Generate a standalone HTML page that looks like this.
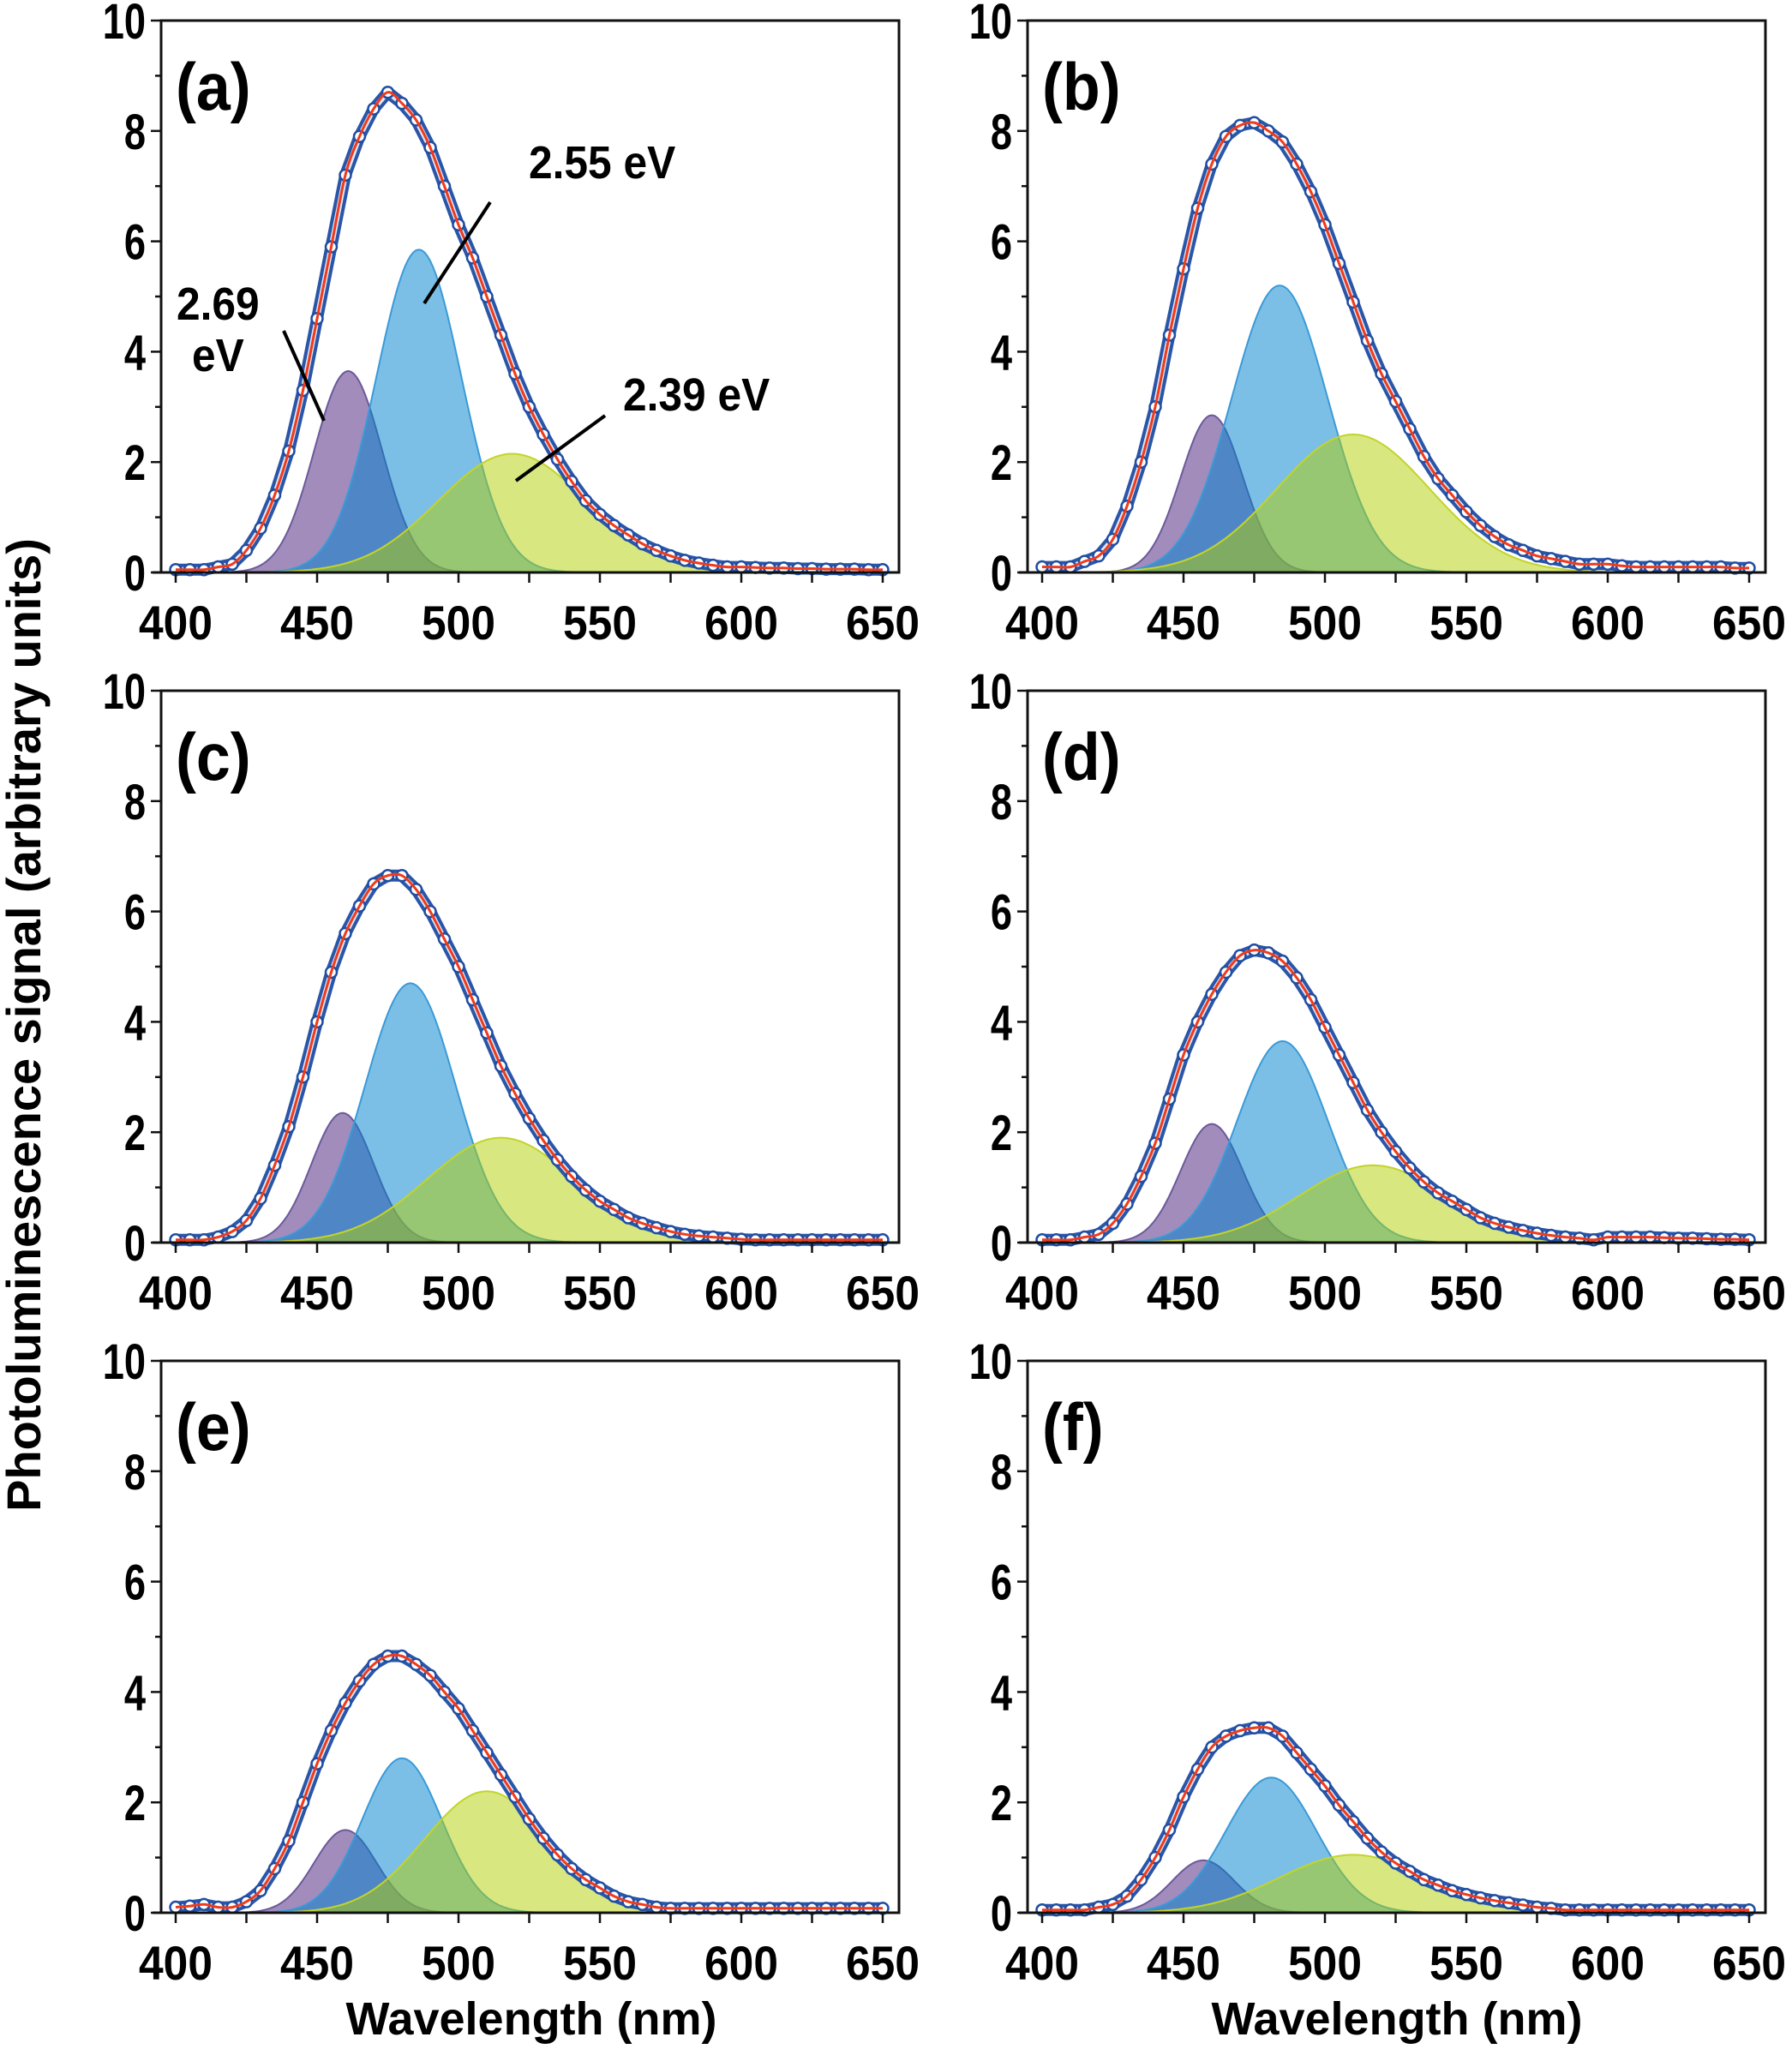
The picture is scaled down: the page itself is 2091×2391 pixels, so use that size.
<!DOCTYPE html>
<html><head><meta charset="utf-8"><style>
html,body{margin:0;padding:0;background:#fff;}
svg{display:block;font-family:"Liberation Sans",Arial,sans-serif;font-weight:bold;}
</style></head><body>
<svg id="fig" width="2091" height="2391" viewBox="0 0 2091 2391">
<text x="0" y="0" transform="translate(47,1196) rotate(-90)" text-anchor="middle" font-size="56">Photoluminescence signal (arbitrary units)</text>
<text x="620" y="2374" text-anchor="middle" font-size="54">Wavelength (nm)</text>
<text x="1630" y="2374" text-anchor="middle" font-size="54">Wavelength (nm)</text>
</svg>
<script>
const wavelengths=[400,405,410,415,420,425,430,435,440,445,450,455,460,465,470,475,480,485,490,495,500,505,510,515,520,525,530,535,540,545,550,555,560,565,570,575,580,585,590,595,600,605,610,615,620,625,630,635,640,645,650];
const panelLabels=["(a)","(b)","(c)","(d)","(e)","(f)"];
const xTicks=[400,450,500,550,600,650];
const yTicks=[0,2,4,6,8,10];
const dataA=[0.05,0.05,0.05,0.1,0.15,0.4,0.8,1.4,2.2,3.3,4.6,5.9,7.2,7.9,8.4,8.7,8.5,8.2,7.7,7.0,6.3,5.7,5.0,4.3,3.6,3.0,2.5,2.05,1.65,1.3,1.05,0.85,0.68,0.52,0.4,0.3,0.22,0.17,0.13,0.1,0.1,0.09,0.08,0.08,0.07,0.07,0.06,0.06,0.06,0.05,0.05];
const dataB=[0.1,0.1,0.1,0.2,0.3,0.6,1.2,2.0,3.0,4.3,5.5,6.6,7.4,7.9,8.1,8.15,8.0,7.8,7.4,6.9,6.3,5.6,4.9,4.2,3.6,3.1,2.6,2.1,1.7,1.4,1.1,0.85,0.65,0.5,0.4,0.3,0.25,0.2,0.15,0.15,0.15,0.12,0.1,0.1,0.1,0.1,0.1,0.1,0.1,0.08,0.08];
const dataC=[0.05,0.05,0.05,0.1,0.2,0.4,0.8,1.4,2.1,3.0,4.0,4.9,5.6,6.1,6.5,6.65,6.65,6.4,6.0,5.5,5.0,4.4,3.8,3.2,2.7,2.25,1.85,1.5,1.2,0.95,0.75,0.6,0.45,0.35,0.27,0.2,0.15,0.12,0.1,0.08,0.06,0.05,0.05,0.05,0.05,0.05,0.05,0.05,0.05,0.05,0.05];
const dataD=[0.05,0.05,0.05,0.1,0.15,0.35,0.7,1.2,1.8,2.6,3.4,4.0,4.5,4.9,5.2,5.3,5.25,5.1,4.8,4.4,3.9,3.4,2.9,2.4,2.0,1.65,1.35,1.1,0.9,0.75,0.6,0.45,0.35,0.28,0.22,0.17,0.13,0.1,0.08,0.05,0.1,0.1,0.1,0.1,0.09,0.08,0.08,0.07,0.06,0.06,0.05];
const dataE=[0.1,0.12,0.15,0.1,0.1,0.2,0.4,0.8,1.3,2.0,2.7,3.3,3.8,4.2,4.5,4.65,4.65,4.5,4.3,4.0,3.7,3.3,2.9,2.5,2.1,1.7,1.35,1.05,0.8,0.6,0.45,0.3,0.2,0.15,0.1,0.08,0.08,0.08,0.08,0.08,0.08,0.08,0.08,0.08,0.08,0.08,0.08,0.08,0.08,0.08,0.08];
const dataF=[0.05,0.05,0.05,0.05,0.1,0.15,0.3,0.6,1.0,1.5,2.1,2.6,3.0,3.2,3.3,3.35,3.35,3.2,2.9,2.6,2.3,1.95,1.65,1.35,1.1,0.9,0.75,0.6,0.5,0.4,0.33,0.27,0.22,0.18,0.14,0.1,0.08,0.05,0.05,0.05,0.05,0.05,0.05,0.05,0.05,0.05,0.05,0.05,0.05,0.05,0.05];
const panelData=[dataA,dataB,dataC,dataD,dataE,dataF];
// component gaussians: center (nm), amplitude, sigma (nm)
const purpleCenter=[461,460,459,460,460,457];
const purpleAmp=[3.65,2.85,2.35,2.15,1.5,0.95];
const purpleSigma=[12,11,11,11,11,11];
const blueCenter=[486,484,483,485,480,481];
const blueAmp=[5.85,5.2,4.7,3.65,2.8,2.45];
const blueSigma=[15,17,16,16,14,16];
const yellowCenter=[519,510,515,517,510,510];
const yellowAmp=[2.15,2.5,1.9,1.4,2.2,1.05];
const yellowSigma=[26,27,26,26,22,26];

const NS="http://www.w3.org/2000/svg";
const svg=document.getElementById('fig');
const colLeft=[188,1199], rowTop=[24,806,1588], rowZero=[668,1450,2232];
function mk(tag,attrs,parent){const e=document.createElementNS(NS,tag);for(const k in attrs)e.setAttribute(k,attrs[k]);(parent||svg).appendChild(e);return e;}

for(let p=0;p<6;p++){
  const col=p%2,row=Math.floor(p/2);
  const L=colLeft[col],R=L+861,T=rowTop[row],B=rowZero[row];
  const x400=L+17,pxnm=3.3;
  const X=w=>x400+(w-400)*pxnm;
  const Y=v=>B-(v/10)*(B-T);
  const g=mk('g',{});
  
  
  const clipId='clip'+p;
  const cp=mk('clipPath',{id:clipId},g);mk('rect',{x:L,y:T,width:R-L,height:B-T},cp);
  const comps=[[purpleCenter[p],purpleAmp[p],purpleSigma[p],'rgb(162,140,188)',1,'#6a5a9a','component-2-69ev'],
               [blueCenter[p],blueAmp[p],blueSigma[p],'rgb(1,131,206)',0.516,'#3a9ad8','component-2-55ev'],
               [yellowCenter[p],yellowAmp[p],yellowSigma[p],'rgb(177,207,0)',0.5,'#c2d42a','component-2-39ev']];
  const cg=mk('g',{'clip-path':'url(#'+clipId+')'},g);
  for(const c of comps){
    let d='M'+X(400)+','+B;
    for(let w=400;w<=650;w+=1){const v=c[1]*Math.exp(-Math.pow(w-c[0],2)/(2*c[2]*c[2]));d+=' L'+X(w).toFixed(1)+','+Y(v).toFixed(1);}
    d+=' L'+X(650)+','+B+' Z';
    const path=mk('path',{d:d,fill:c[3],'fill-opacity':c[4],stroke:c[5],'stroke-width':2},cg);
    
    
  }
  const data=panelData[p];
  const pts=wavelengths.map((w,i)=>[X(w),Y(data[i])]);
  const poly=pts.map(q=>q[0].toFixed(1)+','+q[1].toFixed(1)).join(' ');
  const band=mk('polyline',{points:poly,fill:'none',stroke:'#2a56a8','stroke-width':14,'stroke-linejoin':'round'},g);
  
  
  mk('polyline',{points:poly,fill:'none',stroke:'#dfe7f5','stroke-width':6,'stroke-linejoin':'round'},g);
  for(const q of pts){
    const c=mk('circle',{cx:q[0],cy:q[1],r:6.5,fill:'#fff',stroke:'#1f4ea3','stroke-width':2.5},g);
    
    
  }
  let fd='M'+pts[0][0]+','+pts[0][1];
  for(let i=0;i<pts.length-1;i++){
    const p0=pts[Math.max(0,i-1)],p1=pts[i],p2=pts[i+1],p3=pts[Math.min(pts.length-1,i+2)];
    fd+=' C'+(p1[0]+(p2[0]-p0[0])/6).toFixed(1)+','+(p1[1]+(p2[1]-p0[1])/6).toFixed(1)+' '+(p2[0]-(p3[0]-p1[0])/6).toFixed(1)+','+(p2[1]-(p3[1]-p1[1])/6).toFixed(1)+' '+p2[0].toFixed(1)+','+p2[1].toFixed(1);
  }
  const fit=mk('path',{d:fd,fill:'none',stroke:'#f03a1c','stroke-width':3},g);
  
  
  const fr=mk('rect',{x:L,y:T,width:R-L,height:B-T,fill:'none',stroke:'#111','stroke-width':3},g);
  
  
  mk('line',{x1:L-10,y1:B,x2:L,y2:B,stroke:'#111','stroke-width':3},g);
  for(let v=0;v<=10;v++){
    const len=(v%2===0)?12:7;
    mk('line',{x1:L-len,y1:Y(v),x2:L,y2:Y(v),stroke:'#111','stroke-width':2.5},g);
  }
  for(const v of yTicks){
    const t=mk('text',{x:0,y:0,transform:'translate('+(L-18)+','+(Y(v)+21)+') scale(0.78,1)','text-anchor':'end','font-size':58},g);
    t.textContent=v;
    
    
  }
  for(let w=400;w<=650;w+=25){
    mk('line',{x1:X(w),y1:B,x2:X(w),y2:B+12,stroke:'#111','stroke-width':2.5},g);
  }
  for(const w of xTicks){
    const t=mk('text',{x:0,y:0,transform:'translate('+X(w)+','+(B+78)+') scale(0.92,1)','text-anchor':'middle','font-size':56},g);
    t.textContent=w;
    
    
  }
  const lab=mk('text',{x:0,y:0,transform:'translate('+(L+17)+','+(T+104)+') scale(0.92,1)','font-size':78},g);
  lab.textContent=panelLabels[p];
  
  
}
const ann=[["2.55 eV",617,208,[495,354,572,236]],["2.69",206,373,[331,386,378,491]],["eV",224,433,null],["2.39 eV",727,479,[706,485,602,561]]];
for(const a of ann){
  const t=mk('text',{x:0,y:0,transform:'translate('+a[1]+','+a[2]+') scale(0.92,1)','font-size':54});
  t.textContent=a[0];
  
  
  if(a[3]){
    const l=mk('line',{x1:a[3][0],y1:a[3][1],x2:a[3][2],y2:a[3][3],stroke:'#000','stroke-width':4});
    
    
  }
}
</script>
</body></html>
